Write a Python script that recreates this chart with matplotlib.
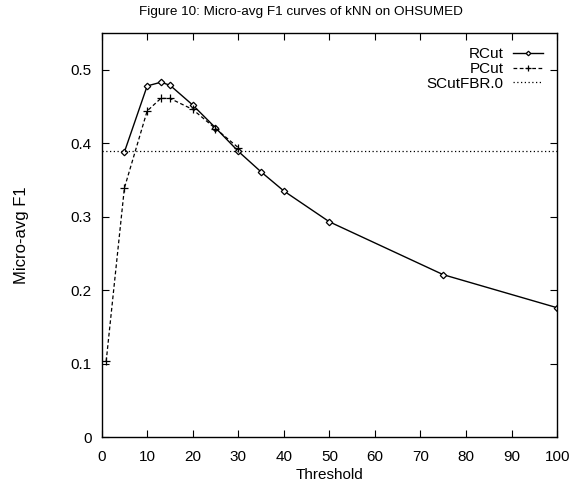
import matplotlib
matplotlib.use("Agg")
import matplotlib.pyplot as plt

plt.rcParams['font.family'] = ['Liberation Sans', 'DejaVu Sans']

# Micro-avg F1 of kNN on OHSUMED for each thresholding strategy
rcut_threshold = [5, 10, 13, 15, 20, 25, 30, 35, 40, 50, 75, 100]
rcut_f1 = [0.388, 0.478, 0.483, 0.479, 0.452, 0.421, 0.389, 0.361, 0.335, 0.293, 0.221, 0.176]

pcut_threshold = [1, 5, 10, 13, 15, 20, 25, 30]
pcut_f1 = [0.103, 0.339, 0.444, 0.461, 0.461, 0.446, 0.420, 0.394]

scut_fbr0_f1 = 0.390

x_ticks = [0, 10, 20, 30, 40, 50, 60, 70, 80, 90, 100]
y_ticks = [0, 0.1, 0.2, 0.3, 0.4, 0.5]
y_tick_labels = ["0", "0.1", "0.2", "0.3", "0.4", "0.5"]

fig = plt.figure(figsize=(5.84, 4.86), dpi=100)
ax = fig.add_axes([0.174, 0.1008, 0.780, 0.8312])

ax.plot(rcut_threshold, rcut_f1, color="black", lw=1.0, ls="-",
        marker="D", markersize=3.3, markerfacecolor="white",
        markeredgecolor="black", markeredgewidth=0.9, label="RCut")
ax.plot(pcut_threshold, pcut_f1, color="black", lw=0.9, ls=(0, (3, 2)),
        marker="+", markersize=6, markeredgewidth=0.9, label="PCut")
ax.axhline(scut_fbr0_f1, color="black", lw=0.9, ls=(0, (1, 2)),
           label="SCutFBR.0")

ax.set_xlim(0, 100)
ax.set_ylim(0, 0.55)
ax.set_xticks(x_ticks)
ax.set_yticks(y_ticks)
ax.set_yticklabels(y_tick_labels)
ax.tick_params(direction="in", top=True, right=True, length=5, width=0.8,
               labelsize=11)
ax.tick_params(axis="x", pad=9)
ax.tick_params(axis="y", pad=7)
for s in ax.spines.values():
    s.set_linewidth(1.0)

ax.set_xlabel("Threshold", fontsize=11, labelpad=3)
ax.set_ylabel("Micro-avg F1", fontsize=12, labelpad=30)
fig.text(0.516, 0.975, "Figure 10: Micro-avg F1 curves of kNN on OHSUMED",
         fontsize=9.7, ha="center", va="center")

ax.legend(loc="upper right", frameon=False, markerfirst=False,
          fontsize=11, handlelength=2.0, handletextpad=0.6,
          labelspacing=0.05, borderpad=0.0, borderaxespad=0.0,
          markerscale=0.7, bbox_to_anchor=(0.970, 0.965))

fig.savefig("out.png", dpi=100)
